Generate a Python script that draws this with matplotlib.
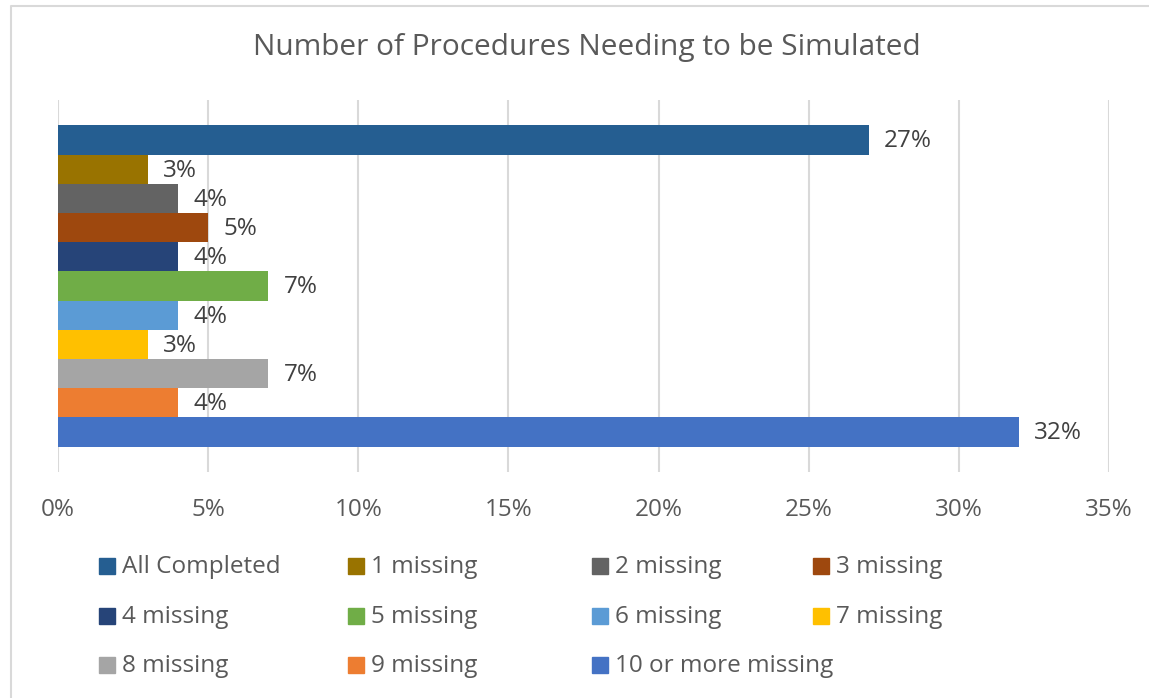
import matplotlib.pyplot as plt
from matplotlib.patches import Rectangle
from matplotlib.lines import Line2D
from matplotlib.ticker import FuncFormatter

plt.rcParams['font.family'] = ['Open Sans', 'DejaVu Sans']

# data
series = ['All Completed', '1 missing', '2 missing', '3 missing', '4 missing', '5 missing',
          '6 missing', '7 missing', '8 missing', '9 missing', '10 or more missing']
values = [27, 3, 4, 5, 4, 7, 4, 3, 7, 4, 32]
colors = ['#255E91', '#997300', '#636363', '#9E480E', '#264478', '#70AD47',
          '#5B9BD5', '#FFC000', '#A5A5A5', '#ED7D31', '#4472C4']
xticks = [0, 5, 10, 15, 20, 25, 30, 35]

W, H = 1149, 698
fig = plt.figure(figsize=(W / 100, H / 100), dpi=100)
ax = fig.add_axes([58 / W, 1 - 472 / H, (1109 - 58) / W, (472 - 100) / H])

# bars, one series per row, no gap between them
ypos = list(range(len(values)))
bars = ax.barh(ypos, values, height=1.0, color=colors)
for b, v in zip(bars, values):
    ax.annotate('%d%%' % v, xy=(b.get_width(), b.get_y() + b.get_height() / 2),
                xytext=(11, -1), textcoords='offset points', va='center', ha='left',
                fontsize=17.5, color='#404040')

ax.set_xlim(0, 35)
ax.set_ylim(10.5 + 0.87, -0.5 - 0.87)
ax.set_xticks(xticks)
ax.xaxis.set_major_formatter(FuncFormatter(lambda x, p: '%d%%' % x))
ax.set_yticks([])
ax.tick_params(axis='x', length=0, pad=19, labelsize=17.5, labelcolor='#595959')
ax.grid(axis='x', color='#D9D9D9', linewidth=1.5)
ax.set_axisbelow(True)
for s in ax.spines.values():
    s.set_visible(False)

fig.text(587 / W, 1 - 48 / H, 'Number of Procedures Needing to be Simulated',
         ha='center', va='center', fontsize=21.5, color='#595959')

# legend laid out row by row like the original
col_x = [99, 348, 592, 813]
row_y = [566, 616, 665]
for i, (name, c) in enumerate(zip(series, colors)):
    r, k = divmod(i, 4)
    x0, y0 = col_x[k], row_y[r]
    fig.patches.append(Rectangle((x0 / W, 1 - (y0 + 8) / H), 16 / W, 16 / H,
                                 transform=fig.transFigure, color=c))
    fig.text((x0 + 23) / W, 1 - (y0 + 1) / H, name, ha='left', va='center',
             fontsize=17.5, color='#595959')

# chart border (only top and left edges are visible in the crop)
fig.add_artist(Line2D([11 / W, 11 / W, 1], [0, 1 - 6 / H, 1 - 6 / H],
                      transform=fig.transFigure, color='#D9D9D9', linewidth=1.5))

fig.savefig('out.png', dpi=100)
